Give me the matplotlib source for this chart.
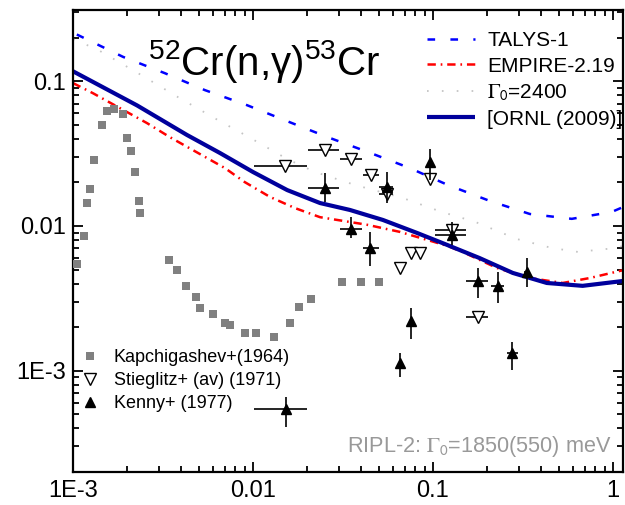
import matplotlib
matplotlib.use("Agg")
import matplotlib.pyplot as plt
from matplotlib.lines import Line2D
from matplotlib.ticker import FixedLocator, LogLocator, NullFormatter
import numpy as np

plt.rcParams['font.family'] = ['Liberation Sans', 'DejaVu Sans']
plt.rcParams['mathtext.fontset'] = 'custom'
plt.rcParams['mathtext.rm'] = 'Liberation Sans'
plt.rcParams['mathtext.it'] = 'Liberation Sans:italic'
plt.rcParams['mathtext.sf'] = 'Liberation Sans'
plt.rcParams['lines.scale_dashes'] = False

# model curves
talys_x = [1.05e-3, 1.9e-3, 3.24e-3, 5.41e-3, 9.26e-3, 0.01545, 0.0261, 0.0436, 0.0745,
           0.121, 0.207, 0.346, 0.592, 0.987, 1.14]
talys_y = [0.21, 0.147, 0.1135, 0.0867, 0.0683, 0.053, 0.041, 0.0324, 0.0251,
           0.0192, 0.0149, 0.0121, 0.0112, 0.0125, 0.0135]

empire_x = [1.0e-3, 1.29e-3, 2.58e-3, 3.46e-3, 6.99e-3, 9.0e-3, 0.0124, 0.0171, 0.0236,
            0.043, 0.0656, 0.12, 0.147, 0.227, 0.346, 0.527, 0.745, 1.14]
empire_y = [0.097, 0.0826, 0.0513, 0.041, 0.0251, 0.0201, 0.0159, 0.0133, 0.0115,
            0.0102, 9.1e-3, 7.3e-3, 6.6e-3, 5.13e-3, 4.37e-3, 4.04e-3, 4.37e-3, 4.95e-3]

g2400_x = [1.0e-3, 1.36e-3, 2.3e-3, 3.83e-3, 6.4e-3, 9.26e-3, 0.0155, 0.0221, 0.0369,
           0.068, 0.112, 0.171, 0.293, 0.458, 0.64, 1.05, 1.14]
g2400_y = [0.195, 0.166, 0.1135, 0.0776, 0.0538, 0.0418, 0.029, 0.0236, 0.0192,
           0.0156, 0.0125, 0.0107, 8.13e-3, 7.05e-3, 6.62e-3, 7.05e-3, 7.3e-3]

ornl_x = [1.0e-3, 2.27e-3, 4.3e-3, 6.56e-3, 0.01, 0.0155, 0.0236, 0.0346, 0.0528, 0.0815,
          0.12, 0.182, 0.278, 0.43, 0.68, 1.14]
ornl_y = [0.117, 0.068, 0.0425, 0.0319, 0.0236, 0.0177, 0.0144, 0.0129, 0.011, 8.96e-3,
          7.4e-3, 6.0e-3, 4.74e-3, 4.04e-3, 3.86e-3, 4.17e-3]

# Kapchigashev+(1964)
kap_x = [1.05e-3, 1.15e-3, 1.2e-3, 1.24e-3, 1.31e-3, 1.45e-3, 1.55e-3, 1.69e-3, 1.9e-3,
         2.0e-3, 2.1e-3, 2.21e-3, 2.33e-3, 2.36e-3, 3.41e-3, 3.78e-3, 4.25e-3, 4.8e-3,
         5.08e-3, 6.0e-3, 6.99e-3, 7.45e-3, 9.0e-3, 0.0104, 0.0131, 0.0161, 0.018, 0.021,
         0.0312, 0.0398, 0.05]
kap_y = [5.5e-3, 8.5e-3, 0.0144, 0.018, 0.0285, 0.0498, 0.062, 0.064, 0.059,
         0.0405, 0.033, 0.0236, 0.0149, 0.0123, 5.8e-3, 5.0e-3, 3.85e-3, 3.24e-3,
         2.72e-3, 2.47e-3, 2.14e-3, 2.07e-3, 1.83e-3, 1.83e-3, 1.71e-3, 2.14e-3, 2.76e-3, 3.14e-3,
         4.11e-3, 4.11e-3, 4.11e-3]

# Stieglitz+ (av) (1971)
sti_x = [0.0151, 0.0251, 0.035, 0.0453, 0.0555, 0.0656, 0.0756, 0.0848, 0.096, 0.128, 0.178]
sti_y = [0.026, 0.0334, 0.029, 0.0225, 0.0165, 5.13e-3, 6.5e-3, 6.5e-3, 0.0211, 9.4e-3, 2.36e-3]
sti_xlo = [0.0101, 0.0202, 0.0303, 0.0408, 0.05, 0.0656, 0.0756, 0.0848, 0.096, 0.103, 0.152]
sti_xhi = [0.02, 0.030, 0.0404, 0.05, 0.06, 0.0656, 0.0756, 0.0848, 0.096, 0.152, 0.203]

# Kenny+ (1977)
ken_x = [0.0153, 0.0251, 0.035, 0.045, 0.0555, 0.0656, 0.0756, 0.096, 0.128, 0.178, 0.23, 0.275, 0.333]
ken_y = [5.47e-4, 0.0183, 9.5e-3, 7.05e-3, 0.0186, 1.14e-3, 2.21e-3, 0.0276, 8.7e-3,
         4.18e-3, 3.86e-3, 1.33e-3, 4.82e-3]
ken_ylo = [4.11e-4, 0.0147, 8.26e-3, 5.3e-3, 0.0145, 9.1e-4, 1.66e-3, 0.0207, 7.4e-3,
           3.19e-3, 2.94e-3, 1.02e-3, 3.8e-3]
ken_yhi = [6.62e-4, 0.0232, 0.0115, 9.1e-3, 0.0236, 1.33e-3, 2.72e-3, 0.034, 0.0107,
           5.13e-3, 4.82e-3, 1.58e-3, 6.0e-3]
ken_xlo = [0.0101, 0.0202, 0.0303, 0.0408, 0.05, 0.0656, 0.0756, 0.096, 0.103, 0.152, 0.211, 0.258, 0.32]
ken_xhi = [0.02, 0.030, 0.0404, 0.05, 0.06, 0.0656, 0.0756, 0.096, 0.152, 0.203, 0.25, 0.296, 0.345]

xticks = [1e-3, 0.01, 0.1, 1]
xtick_labels = ['1E-3', '0.01', '0.1', '1']
yticks = [1e-3, 0.01, 0.1]
ytick_labels = ['1E-3', '0.01', '0.1']

fig = plt.figure(figsize=(6.25, 5.05), dpi=100)
ax = fig.add_axes([73/625, 1-472/505, 550/625, 462/505])
ax.set_xscale('log')
ax.set_yscale('log')

ax.plot(talys_x, talys_y, color='#0000ff', lw=1.8, dashes=(5.5, 11), label='TALYS-1')
ax.plot(empire_x, empire_y, color='#ff0000', lw=1.8, dashes=(6, 3.5, 1.2, 3.5), label='EMPIRE-2.19')
ax.plot(g2400_x, g2400_y, color='#c4c4c4', lw=1.3, dashes=(1.2, 9.5), label=r'$\Gamma_{0}$=2400')
ax.plot(ornl_x, ornl_y, color='#00009c', lw=3, solid_capstyle='butt', label='[ORNL (2009)]')

ax.plot(kap_x, kap_y, 's', color='#808080', ms=6, mew=0, zorder=3)

sti_x = np.array(sti_x)
ax.errorbar(sti_x, sti_y, xerr=[sti_x - np.array(sti_xlo), np.array(sti_xhi) - sti_x],
            fmt='v', ms=8, mfc='white', mec='black', mew=1, ecolor='black', elinewidth=1.2,
            capsize=0, zorder=4)
ken_x = np.array(ken_x)
ken_y = np.array(ken_y)
ax.errorbar(ken_x, ken_y,
            xerr=[ken_x - np.array(ken_xlo), np.array(ken_xhi) - ken_x],
            yerr=[ken_y - np.array(ken_ylo), np.array(ken_yhi) - ken_y],
            fmt='^', ms=7.5, color='black', ecolor='black', elinewidth=1.2, capsize=0, zorder=5)

ax.set_xlim(1e-3, 1.14)
ax.set_ylim(2.0e-4, 0.31)

ax.xaxis.set_major_locator(FixedLocator(xticks))
ax.set_xticklabels(xtick_labels)
ax.yaxis.set_major_locator(FixedLocator(yticks))
ax.set_yticklabels(ytick_labels)
ax.xaxis.set_minor_locator(LogLocator(base=10, subs=np.arange(2, 10), numticks=20))
ax.yaxis.set_minor_locator(LogLocator(base=10, subs=np.arange(2, 10), numticks=20))
ax.xaxis.set_minor_formatter(NullFormatter())
ax.yaxis.set_minor_formatter(NullFormatter())
ax.tick_params(which='both', direction='in', top=True, right=True, width=1.3, labelsize=17)
ax.tick_params(which='major', length=7)
ax.tick_params(which='minor', length=4)
ax.tick_params(axis='x', pad=6)
ax.tick_params(axis='y', pad=5)
for s in ax.spines.values():
    s.set_linewidth(1.6)

ax.text(0.136, 0.859, r'$^{\mathregular{52}}$Cr(n,γ)$^{\mathregular{53}}$Cr', transform=ax.transAxes,
        fontsize=29, va='baseline', ha='left')

leg = ax.legend(loc='upper left', bbox_to_anchor=(427/625, 1-31/505), bbox_transform=fig.transFigure,
                frameon=False, fontsize=15, handlelength=2.3, handletextpad=0.6,
                labelspacing=0.32, borderpad=0, borderaxespad=0)
for t in leg.get_texts():
    if 'Gamma' in t.get_text():
        t.set_math_fontfamily('stix')
        t.set_text(r'$\Gamma_{\mathsf{0}}$=2400')

handles = [Line2D([], [], ls='none', marker='s', color='#808080', ms=6, mew=0),
           Line2D([], [], ls='none', marker='v', mfc='white', mec='black', ms=8, mew=1),
           Line2D([], [], ls='none', marker='^', color='black', ms=7.5)]
labels = ['Kapchigashev+(1964)', 'Stieglitz+ (av) (1971)', 'Kenny+ (1977)']
leg2 = ax.legend(handles, labels, loc='upper left', bbox_to_anchor=(81/625, 1-349/505),
                 bbox_transform=fig.transFigure, frameon=False, fontsize=13,
                 handlelength=1.0, handletextpad=0.8, labelspacing=0.33, borderpad=0, borderaxespad=0)
ax.add_artist(leg)

ax.text(0.498, 0.043, r'RIPL-2: $\Gamma_{\mathsf{0}}$=1850(550) meV', transform=ax.transAxes,
        fontsize=15.6, color='#999999', ha='left', va='baseline', math_fontfamily='stix')

fig.savefig('out.png', dpi=100)
